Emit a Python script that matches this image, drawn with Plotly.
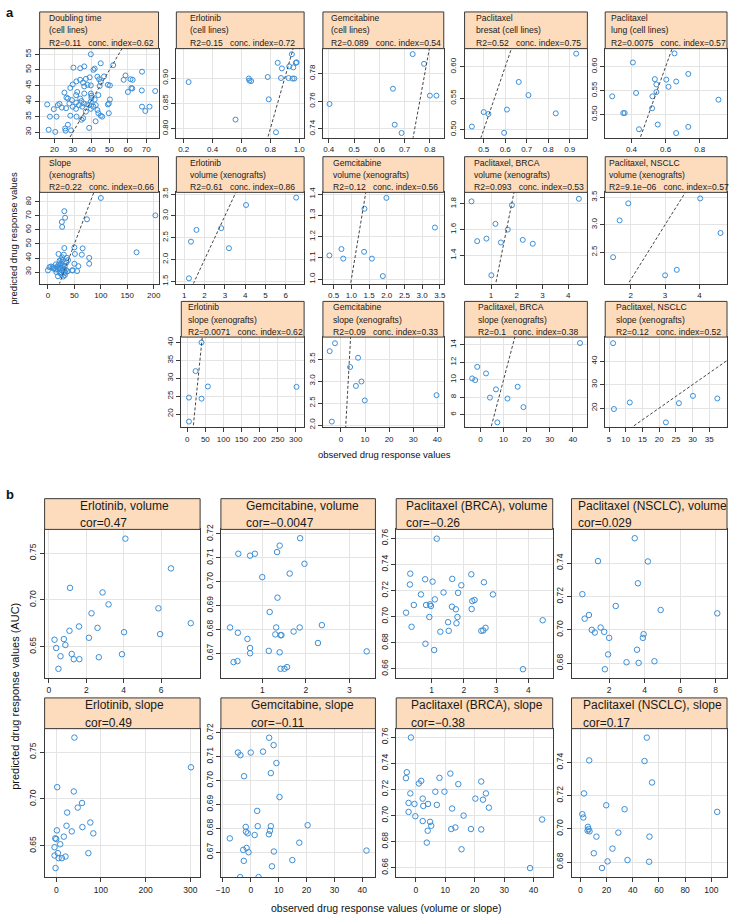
import plotly.graph_objects as go

W, H = 732, 918
MINUS = "\u2212"

# ---------------- data: panel a (observed x, predicted y) ----------------
doubling_obs = [39.8, 45.2, 52.0, 30.3, 34.0, 36.2, 41.2, 41.9, 67.7, 58.7, 47.0, 43.4, 39.2, 37.1, 34.0, 31.9,
                35.5, 44.3, 45.2, 57.7, 61.4, 62.6, 29.9, 38.0, 39.8, 49.1, 50.2, 44.6, 28.6, 36.2, 61.9, 62.4,
                67.6, 74.9, 60.0, 25.4, 32.4, 39.8, 40.1, 36.2, 43.9, 31.8, 26.5, 40.1, 27.3, 34.0, 41.9, 50.2,
                29.5, 34.7, 39.8, 22.7, 28.1, 31.8, 36.0, 37.8, 49.6, 49.1, 21.8, 33.3, 38.9, 42.5, 24.0, 29.9,
                35.1, 41.2, 67.7, 71.8, 19.6, 26.3, 31.7, 39.8, 43.4, 69.5, 37.1, 43.9, 49.6, 45.2, 46.0, 17.5,
                21.1, 32.0, 35.6, 34.7, 28.6, 42.4, 27.3, 38.9, 25.8, 26.0, 29.0, 16.8, 20.4, 16.0]
doubling_pred = [55.0, 52.1, 51.5, 50.7, 50.5, 51.1, 50.0, 50.4, 49.4, 48.2, 47.9, 47.8, 47.6, 47.1, 46.8, 46.3,
                 45.9, 47.0, 46.1, 46.8, 47.0, 46.8, 45.3, 45.2, 45.0, 45.2, 45.0, 44.8, 44.2, 44.7, 44.2, 44.0,
                 43.4, 43.2, 42.9, 42.7, 42.9, 42.4, 41.7, 42.4, 41.9, 41.9, 41.1, 41.0, 40.8, 40.8, 40.5, 40.5,
                 40.3, 40.0, 39.8, 39.1, 39.2, 39.5, 39.2, 38.9, 39.2, 38.9, 38.7, 38.7, 38.7, 38.7, 37.9, 38.2,
                 38.2, 38.2, 38.2, 38.2, 37.4, 37.7, 37.5, 37.5, 37.1, 36.8, 36.6, 36.1, 36.1, 35.3, 35.0, 35.0,
                 35.0, 35.0, 34.5, 34.0, 35.3, 33.5, 32.4, 31.4, 31.2, 30.5, 30.6, 30.8, 30.1, 38.9]

erlo_cell_obs = [0.234, 0.559, 0.651, 0.655, 0.667, 0.782, 0.789, 0.839, 0.851, 0.874, 0.880, 0.931, 0.926,
                 0.949, 0.959, 0.954, 0.966, 0.977, 0.982]
erlo_cell_pred = [0.892, 0.818, 0.899, 0.895, 0.894, 0.902, 0.858, 0.793, 0.930, 0.900, 0.919, 0.923, 0.900,
                  0.947, 0.921, 0.899, 0.899, 0.930, 0.931]

gem_cell_obs = [0.403, 0.654, 0.661, 0.688, 0.732, 0.777, 0.800, 0.826]
gem_cell_pred = [0.758, 0.769, 0.743, 0.737, 0.794, 0.787, 0.764, 0.764]

pacl_breast_obs = [0.445, 0.500, 0.522, 0.595, 0.608, 0.663, 0.708, 0.835, 0.930]
pacl_breast_pred = [0.505, 0.528, 0.525, 0.495, 0.532, 0.576, 0.555, 0.526, 0.621]

pacl_lung_obs = [0.287, 0.408, 0.427, 0.352, 0.360, 0.444, 0.537, 0.546, 0.546, 0.523, 0.521, 0.554, 0.604,
                 0.617, 0.652, 0.662, 0.662, 0.733, 0.733, 0.910]
pacl_lung_pred = [0.538, 0.609, 0.545, 0.503, 0.503, 0.469, 0.574, 0.563, 0.547, 0.538, 0.513, 0.479, 0.573,
                  0.558, 0.628, 0.569, 0.461, 0.585, 0.474, 0.531]

slope_obs = [100, 203, 31, 32.5, 26.3, 26.9, 73.8, 167.5, 31, 50, 65.6, 20, 51, 64, 78, 78, 50, 57.5, 55, 45.6,
             47, 30, 36, 0, 3, 6, 9, 12, 15, 17, 19, 20, 22, 24, 25, 26, 27, 28, 28, 29, 30, 31, 32, 33, 34, 35,
             25, 38, 22, 14, 16, 24, 10, 19, 23, 27, 32, 37, 21, 26]
slope_pred = [82.8, 70.4, 73.4, 68.7, 65.7, 62.2, 67.6, 44.1, 47.1, 47.6, 46.9, 42.9, 42.9, 42.4, 40.1, 35.9,
              35.9, 34.2, 30.7, 31.2, 31.2, 42.4, 40.1, 31.2, 33.5, 34.0, 33.5, 33.0, 35.5, 33.6, 31.8, 35.2,
              29.8, 32.8, 36.3, 28.2, 31.0, 34.5, 38.5, 26.8, 30.0, 32.2, 27.8, 29.5, 31.5, 36.8, 39.0, 38.5,
              38.0, 32.0, 30.0, 29.0, 32.5, 27.0, 35.0, 40.5, 34.5, 30.5, 33.0, 34.0]

erlo_vol_obs = [1.23, 1.33, 1.60, 2.82, 3.20, 4.04, 6.51]
erlo_vol_pred = [1.57, 2.41, 2.68, 2.72, 2.26, 3.25, 3.42]

gem_vol_obs = [0.38, 0.72, 0.77, 1.36, 1.37, 1.58, 1.89, 1.99, 3.36]
gem_vol_pred = [1.112, 1.142, 1.097, 1.129, 1.331, 1.097, 1.015, 1.382, 1.243]

brca_vol_obs = [0.24, 0.46, 0.82, 1.17, 1.01, 1.38, 1.65, 1.81, 2.23, 2.62, 4.41]
brca_vol_pred = [1.82, 1.51, 1.53, 1.645, 1.245, 1.50, 1.60, 1.79, 1.52, 1.49, 1.84]

nsclc_vol_obs = [1.49, 1.68, 1.93, 3.00, 3.34, 4.02, 4.61]
nsclc_vol_pred = [2.41, 3.08, 3.39, 2.08, 2.18, 3.48, 2.85]

erlo_slope_obs = [4.6, 4.6, 23, 39.4, 39.4, 57, 302]
erlo_slope_pred = [17.9, 24.6, 32.0, 40.0, 24.3, 27.7, 27.6]

gem_slope_obs = [-4.7, -2.5, 3.8, 7.1, 6.2, 8.5, 9.9, -3.8, 39.7]
gem_slope_pred = [3.68, 3.86, 3.32, 3.53, 2.89, 2.99, 2.56, 2.08, 2.68]

brca_slope_obs = [-3.6, -2.3, -1.4, 2.4, 6.7, 4.1, 7.3, 11.7, 16.1, 18.6, 43.1]
brca_slope_pred = [10.15, 9.96, 11.47, 10.72, 8.9, 7.96, 5.13, 7.85, 9.2, 6.87, 14.19]

nsclc_slope_obs = [6.2, 6.45, 11.2, 22.0, 25.9, 30.1, 37.4]
nsclc_slope_pred = [47.7, 19.6, 22.4, 13.9, 22.1, 25.2, 24.1]

# ---------------- data: panel b (observed x, predicted AUC y) ----------------
b_erlo_vol = [0.30, 0.39, 0.51, 0.62, 0.80, 0.88, 1.10, 1.13, 1.22, 1.33, 1.63, 1.61, 2.14, 2.28, 2.60, 2.67,
              2.87, 3.19, 3.91, 4.02, 4.09, 5.86, 5.95, 6.53, 7.59]
b_erlo_vol_auc = [0.6574, 0.6486, 0.6263, 0.6398, 0.6581, 0.6518, 0.667, 0.7129, 0.6422, 0.6366, 0.6366, 0.6716,
                  0.6595, 0.6857, 0.6701, 0.6387, 0.708, 0.6952, 0.6419, 0.6655, 0.7655, 0.691, 0.6634, 0.7337,
                  0.6751]

b_gem_vol = [0.26, 0.34, 0.43, 0.44, 0.45, 0.72, 0.83, 0.66, 0.72, 0.72, 1.0, 1.15, 1.17, 1.32, 1.30, 1.34,
             1.35, 1.40, 1.40, 1.42, 1.44, 1.42, 1.51, 1.57, 1.63, 1.72, 1.86, 1.87, 1.97, 2.28, 2.37, 3.40]
b_gem_vol_auc = [0.6808, 0.6663, 0.6667, 0.6786, 0.7117, 0.7109, 0.7117, 0.676, 0.6722, 0.67, 0.7019, 0.671,
                 0.6873, 0.6808, 0.6779, 0.7124, 0.6933, 0.7151, 0.6704, 0.6776, 0.6776, 0.6635, 0.6635, 0.6642,
                 0.7034, 0.6791, 0.6808, 0.7182, 0.7075, 0.6743, 0.6818, 0.6708]

b_brca_vol = [0.21, 0.34, 0.33, 0.38, 0.45, 0.67, 0.80, 0.81, 0.83, 0.93, 0.95, 0.98, 1.03, 1.08, 1.10, 1.16,
              1.27, 1.37, 1.51, 1.53, 1.64, 1.63, 1.75, 1.77, 1.80, 1.82, 1.92, 2.23, 2.24, 2.26, 2.33, 2.54,
              2.60, 2.67, 2.62, 2.90, 3.83, 4.44]
b_brca_vol_auc = [0.703, 0.7329, 0.7246, 0.6922, 0.7089, 0.717, 0.7286, 0.6792, 0.7089, 0.6997, 0.7094, 0.7081,
                  0.7268, 0.6744, 0.7132, 0.7597, 0.6884, 0.7185, 0.6957, 0.6891, 0.7289, 0.7076, 0.7056, 0.6949,
                  0.6997, 0.7182, 0.724, 0.7324, 0.7058, 0.7119, 0.7127, 0.6891, 0.6894, 0.6914, 0.7263, 0.717,
                  0.6597, 0.6972]

b_nsclc_vol = [0.49, 0.62, 0.86, 1.02, 1.19, 1.37, 1.52, 1.72, 1.76, 2.0, 1.94, 2.37, 2.98, 3.44, 3.57, 3.66,
               3.62, 3.90, 3.94, 4.18, 4.55, 4.90, 8.09]
b_nsclc_vol_auc = [0.7214, 0.7067, 0.7089, 0.70, 0.6984, 0.7412, 0.7014, 0.6988, 0.6764, 0.6952, 0.6853, 0.7143,
                   0.6806, 0.7549, 0.6881, 0.6802, 0.7279, 0.6952, 0.6974, 0.741, 0.6812, 0.7119, 0.7099]

b_erlo_slope = [40.7, 301.5, 2.2, 39.3, 57.8, 48.1, 24.4, 76.3, 23.0, 58.5, 1.5, 34.8, 83.0, 17.0, -2.2, 0,
                8.9, -3.7, 71.9, 3.7, -3.7, 20.7, 5.2, 12.6, -1.5]
b_erlo_slope_auc = [0.7655, 0.7338, 0.7126, 0.7080, 0.6957, 0.6908, 0.6855, 0.6749, 0.6714, 0.6700, 0.6665,
                    0.6654, 0.6633, 0.6598, 0.6580, 0.6573, 0.6517, 0.6485, 0.6422, 0.6422, 0.6397, 0.6386,
                    0.6369, 0.6369, 0.6263]

b_gem_slope = [-7.5, -4.6, -3.7, 0, -2.4, -3.8, -2.5, -2.7, -1.8, -1.7, -1.1, -0.8, -1.5, 2.8, 1.4, 2.3, 2.5,
               6.5, 6.9, 7.2, 6.6, 8.2, 4.4, 7.2, 9.2, 10.3, 7.6, 8.3, 14.9, 17.4, 20.4, 41.5]
b_gem_slope_auc = [0.6758, 0.7117, 0.7106, 0.7117, 0.7018, 0.6596, 0.6664, 0.671, 0.6806, 0.6786, 0.6779, 0.67,
                   0.6718, 0.6596, 0.6772, 0.6873, 0.6809, 0.6775, 0.679, 0.6809, 0.7179, 0.7148, 0.7121,
                   0.7031, 0.7073, 0.6931, 0.6641, 0.6703, 0.6667, 0.674, 0.6813, 0.6707]

b_brca_slope = [-1.7, -3.1, -3.4, -1.9, -2.5, -2.5, -0.5, -0.2, 1.0, 1.8, 2.3, 2.5, 2.3, 4.1, 4.0, 3.7, 4.8,
                5.2, 6.6, 7.1, 8.0, 9.7, 11.7, 12.3, 12.0, 13.4, 14.4, 15.5, 16.2, 18.7, 20.2, 22.2, 22.2,
                22.8, 23.8, 24.8, 38.8, 42.9]
b_brca_slope_auc = [0.7597, 0.7331, 0.7286, 0.7169, 0.7096, 0.7027, 0.7088, 0.6994, 0.7245, 0.7265, 0.7129,
                    0.7073, 0.6957, 0.7088, 0.6883, 0.6792, 0.6951, 0.6921, 0.7182, 0.7081, 0.7288, 0.7182,
                    0.7321, 0.7053, 0.6896, 0.6908, 0.7240, 0.6741, 0.6999, 0.6896, 0.7129, 0.7260, 0.6893,
                    0.7121, 0.7169, 0.7060, 0.6597, 0.6969]

b_nsclc_slope = [2.75, 1.5, 2.25, 6.75, 5.75, 6.25, 5.5, 7.0, 10.25, 12.25, 16.5, 19.75, 20.75, 24.5, 29,
                 33.75, 36, 49, 50.75, 52.75, 52.5, 54.75, 104.5]
b_nsclc_slope_auc = [0.7213, 0.7088, 0.7068, 0.7412, 0.7012, 0.6998, 0.6989, 0.6985, 0.6853, 0.6953, 0.6764,
                     0.7142, 0.6804, 0.6881, 0.6977, 0.7118, 0.6812, 0.7408, 0.7549, 0.6953, 0.6802, 0.7279,
                     0.7102]

# ---------------- strip labels ----------------
SP = "\u00a0\u00a0\u00a0"
a_heads = [
    ["Doubling time", "(cell lines)", "R2=0.11" + SP + "conc. index=0.62"],
    ["Erlotinib", "(cell lines)", "R2=0.15" + SP + "conc. index=0.72"],
    ["Gemcitabine", "(cell lines)", "R2=0.089" + SP + "conc. index=0.54"],
    ["Paclitaxel", "bresat (cell lines)", "R2=0.52" + SP + "conc. index=0.75"],
    ["Paclitaxel", "lung (cell lines)", "R2=0.0075" + SP + "conc. index=0.57"],
    ["Slope", "(xenografts)", "R2=0.22" + SP + "conc. index=0.66"],
    ["Erlotinib", "volume (xenografts)", "R2=0.61" + SP + "conc. index=0.86"],
    ["Gemcitabine", "volume (xenografts)", "R2=0.12" + SP + "conc. index=0.56"],
    ["Paclitaxel, BRCA", "volume (xenografts)", "R2=0.093" + SP + "conc. index=0.53"],
    ["Paclitaxel, NSCLC", "volume (xenografts)", "R2=9.1e" + MINUS + "06" + SP + "conc. index=0.57"],
    ["Erlotinib", "slope (xenografts)", "R2=0.0071" + SP + "conc. index=0.62"],
    ["Gemcitabine", "slope (xenografts)", "R2=0.09" + SP + "conc. index=0.33"],
    ["Paclitaxel, BRCA", "slope (xenografts)", "R2=0.1" + SP + "conc. index=0.38"],
    ["Paclitaxel, NSCLC", "slope (xenografts)", "R2=0.12" + SP + "conc. index=0.52"],
]
b_heads = [
    ["Erlotinib, volume", "cor=0.47"],
    ["Gemcitabine, volume", "cor=" + MINUS + "0.0047"],
    ["Paclitaxel (BRCA), volume", "cor=" + MINUS + "0.26"],
    ["Paclitaxel (NSCLC), volume", "cor=0.029"],
    ["Erlotinib, slope", "cor=0.49"],
    ["Gemcitabine, slope", "cor=" + MINUS + "0.11"],
    ["Paclitaxel (BRCA), slope", "cor=" + MINUS + "0.38"],
    ["Paclitaxel (NSCLC), slope", "cor=0.17"],
]

# ---------------- layout (pixels) ----------------
A_COLS = [(35, 155), (173, 302), (321, 443), (464, 588), (606, 729)]
A_ROWS = [(6, 43, 133), (152, 188, 280), (298, 334, 425)]
B_COLS = [(40, 197), (218, 374), (395, 553), (572, 729)]
B_ROWS = [(497, 528, 678), (698, 729, 879)]


def P(kind, x, y, head, col, row, xr, yr, xt, yt, xf, yf):
    return dict(kind=kind, x=x, y=y, head=head, col=col, row=row, xr=xr, yr=yr, xt=xt, yt=yt, xf=xf, yf=yf)


panels = [
    P("a", doubling_obs, doubling_pred, a_heads[0], A_COLS[0], A_ROWS[0], [11.9, 76.7], [28.2, 56.8],
      [20, 30, 40, 50, 60, 70], [30, 35, 40, 45, 50, 55], "{:.0f}", "{:.0f}"),
    P("a", erlo_cell_obs, erlo_cell_pred, a_heads[1], A_COLS[1], A_ROWS[0], [0.149, 1.034], [0.782, 0.958],
      [0.2, 0.4, 0.6, 0.8, 1.0], [0.80, 0.85, 0.90], "{:.1f}", "{:.2f}"),
    P("a", gem_cell_obs, gem_cell_pred, a_heads[2], A_COLS[2], A_ROWS[0], [0.377, 0.855], [0.7335, 0.798],
      [0.4, 0.5, 0.6, 0.7, 0.8], [0.74, 0.76, 0.78], "{:.1f}", "{:.2f}"),
    P("a", pacl_breast_obs, pacl_breast_pred, a_heads[3], A_COLS[3], A_ROWS[0], [0.411, 0.982], [0.487, 0.629],
      [0.5, 0.6, 0.7, 0.8, 0.9], [0.50, 0.55, 0.60], "{:.1f}", "{:.2f}"),
    P("a", pacl_lung_obs, pacl_lung_pred, a_heads[4], A_COLS[4], A_ROWS[0], [0.246, 0.96], [0.451, 0.638],
      [0.4, 0.6, 0.8], [0.50, 0.55, 0.60], "{:.1f}", "{:.2f}"),
    P("a", slope_obs, slope_pred, a_heads[5], A_COLS[0], A_ROWS[1], [-15.6, 209], [21.8, 86.8],
      [0, 50, 100, 150, 200], [30, 40, 50, 60, 70, 80], "{:.0f}", "{:.0f}"),
    P("a", erlo_vol_obs, erlo_vol_pred, a_heads[6], A_COLS[1], A_ROWS[1], [0.61, 6.9], [1.45, 3.54],
      [1, 2, 3, 4, 5, 6], [1.5, 2.0, 2.5, 3.0, 3.5], "{:.0f}", "{:.1f}"),
    P("a", gem_vol_obs, gem_vol_pred, a_heads[7], A_COLS[2], A_ROWS[1], [0.197, 3.61], [0.98, 1.408],
      [0.5, 1.0, 1.5, 2.0, 2.5, 3.0, 3.5], [1.0, 1.1, 1.2, 1.3, 1.4], "{:.1f}", "{:.1f}"),
    P("a", brca_vol_obs, brca_vol_pred, a_heads[8], A_COLS[3], A_ROWS[1], [-0.03, 4.74], [1.18, 1.89],
      [1, 2, 3, 4], [1.4, 1.6, 1.8], "{:.0f}", "{:.1f}"),
    P("a", nsclc_vol_obs, nsclc_vol_pred, a_heads[9], A_COLS[4], A_ROWS[1], [1.26, 4.80], [1.93, 3.59],
      [2, 3, 4], [2.5, 3.0, 3.5], "{:.0f}", "{:.1f}"),
    P("a", erlo_slope_obs, erlo_slope_pred, a_heads[10], (178, 302), A_ROWS[2], [-16.5, 323], [16.3, 41.5],
      [0, 50, 100, 150, 200, 250, 300], [20, 25, 30, 35, 40], "{:.0f}", "{:.0f}"),
    P("a", gem_slope_obs, gem_slope_pred, a_heads[11], A_COLS[2], A_ROWS[2], [-7.5, 42.7], [1.95, 4.0],
      [0, 10, 20, 30, 40], [2.0, 2.5, 3.0, 3.5], "{:.0f}", "{:.1f}"),
    P("a", brca_slope_obs, brca_slope_pred, a_heads[12], A_COLS[3], A_ROWS[2], [-6.9, 46.3], [4.57, 14.87],
      [0, 10, 20, 30, 40], [6, 8, 10, 12, 14], "{:.0f}", "{:.0f}"),
    P("a", nsclc_slope_obs, nsclc_slope_pred, a_heads[13], A_COLS[4], A_ROWS[2], [3.84, 40.3], [11.8, 50.3],
      [5, 10, 15, 20, 25, 30, 35], [20, 30, 40], "{:.0f}", "{:.0f}"),
    P("b", b_erlo_vol, b_erlo_vol_auc, b_heads[0], B_COLS[0], B_ROWS[0], [-0.23, 8.09], [0.6164, 0.7754],
      [0, 2, 4, 6], [0.65, 0.70, 0.75], "{:.0f}", "{:.2f}"),
    P("b", b_gem_vol, b_gem_vol_auc, b_heads[1], B_COLS[1], B_ROWS[0], [0.05, 3.60], [0.6596, 0.7219],
      [1, 2, 3], [0.67, 0.68, 0.69, 0.70, 0.71, 0.72], "{:.0f}", "{:.2f}"),
    P("b", b_brca_vol, b_brca_vol_auc, b_heads[2], B_COLS[2], B_ROWS[0], [-0.095, 4.75], [0.6529, 0.7668],
      [1, 2, 3, 4], [0.66, 0.68, 0.70, 0.72, 0.74, 0.76], "{:.0f}", "{:.2f}"),
    P("b", b_nsclc_vol, b_nsclc_vol_auc, b_heads[3], B_COLS[3], B_ROWS[0], [-0.12, 8.64], [0.6711, 0.7602],
      [2, 4, 6, 8], [0.68, 0.70, 0.72, 0.74], "{:.0f}", "{:.2f}"),
    P("b", b_erlo_slope, b_erlo_slope_auc, b_heads[4], B_COLS[0], B_ROWS[1], [-26, 322], [0.6164, 0.775],
      [0, 100, 200, 300], [0.65, 0.70, 0.75], "{:.0f}", "{:.2f}"),
    P("b", b_gem_slope, b_gem_slope_auc, b_heads[5], B_COLS[1], B_ROWS[1], [-10.7, 44.7], [0.6595, 0.7217],
      [-10, 0, 10, 20, 30, 40], [0.67, 0.68, 0.69, 0.70, 0.71, 0.72], "{:.0f}", "{:.2f}"),
    P("b", b_brca_slope, b_brca_slope_auc, b_heads[6], B_COLS[2], B_ROWS[1], [-6.7, 46.5], [0.6526, 0.7665],
      [0, 10, 20, 30, 40], [0.66, 0.68, 0.70, 0.72, 0.74, 0.76], "{:.0f}", "{:.2f}"),
    P("b", b_nsclc_slope, b_nsclc_slope_auc, b_heads[7], B_COLS[3], B_ROWS[1], [-6.75, 112], [0.6708, 0.7603],
      [0, 20, 40, 60, 80, 100], [0.68, 0.70, 0.72, 0.74], "{:.0f}", "{:.2f}"),
]

FONT = "Liberation Sans, Arial, Helvetica, sans-serif"
STRIP = "#fcdcbd"
PT = "#3a8fd9"
FRAME = "#3a3a3a"
GRID = "#e4e4e4"

# approximate Arial/Liberation Sans advance widths (em/1000) for centring strip text blocks
_CW = {" ": 278, "\u00a0": 278, "(": 333, ")": 333, ",": 278, "-": 333, ".": 278, "=": 584, MINUS: 584,
       "A": 667, "B": 667, "C": 722, "D": 722, "E": 667, "L": 556, "N": 722, "P": 667, "R": 722, "S": 667,
       "c": 500, "f": 278, "i": 222, "k": 500, "l": 222, "m": 833, "r": 333, "s": 500, "t": 278, "v": 500,
       "x": 500, "y": 500}


def text_w(s, fs):
    return sum(_CW.get(ch, 556) for ch in s) / 1000.0 * fs


def fmt(f, v):
    return f.format(v).replace("-", MINUS)


fig = go.Figure()
lay = dict(width=W, height=H, margin=dict(l=0, r=0, t=0, b=0), autosize=False,
           paper_bgcolor="white", plot_bgcolor="white", showlegend=False, hovermode=False,
           font=dict(family=FONT, color="#222"), shapes=[], annotations=[])

for i, p in enumerate(panels, start=1):
    (l, r) = p["col"]
    (ht, hb, pb) = p["row"]
    sfx = "" if i == 1 else str(i)
    isa = p["kind"] == "a"
    tfs = 8 if isa else 8.5
    axis_common = dict(showline=True, mirror=True, linecolor=FRAME, linewidth=1, ticks="outside", ticklen=4,
                       tickwidth=1, tickcolor=FRAME, showgrid=True, gridcolor=GRID, gridwidth=1, zeroline=False,
                       tickfont=dict(size=tfs, color="#222", family=FONT), fixedrange=True)
    lay["xaxis" + sfx] = dict(domain=[l / W, r / W], anchor="y" + sfx, range=p["xr"], tickmode="array",
                              tickvals=p["xt"], ticktext=[fmt(p["xf"], v) for v in p["xt"]], **axis_common)
    lay["yaxis" + sfx] = dict(domain=[1 - pb / H, 1 - hb / H], anchor="x" + sfx, range=p["yr"], tickmode="array",
                              tickvals=p["yt"], ticktext=[fmt(p["yf"], v) for v in p["yt"]], tickangle=-90,
                              **axis_common)
    fig.add_trace(go.Scatter(x=p["x"], y=p["y"], mode="markers", xaxis="x" + sfx, yaxis="y" + sfx,
                             marker=dict(symbol="circle-open", size=5 if isa else 5.5, color=PT,
                                         line=dict(width=1, color=PT))))
    if isa:
        lo = min(p["xr"][0], p["yr"][0])
        hi = max(p["xr"][1], p["yr"][1])
        fig.add_trace(go.Scatter(x=[lo, hi], y=[lo, hi], mode="lines", xaxis="x" + sfx, yaxis="y" + sfx,
                                 line=dict(color="#444", width=1, dash="3px,2px")))
    lay["shapes"].append(dict(type="rect", xref="paper", yref="paper", x0=l / W, x1=r / W,
                              y0=1 - hb / H, y1=1 - ht / H, fillcolor=STRIP, line=dict(color=FRAME, width=1)))
    # strip text: lines left-aligned, block centred on the strip
    hfs = 8.6 if isa else 12
    first, step = (6.0, 12.5) if isa else (7.0, 18.0)
    left = (l + r) / 2 - max(text_w(s, hfs) for s in p["head"]) / 2
    left = max(left, l + 2)
    for k, line in enumerate(p["head"]):
        lay["annotations"].append(dict(text=line, xref="paper", yref="paper", x=left / W,
                                       y=1 - (ht + first + k * step) / H, xanchor="left", yanchor="middle",
                                       showarrow=False, font=dict(size=hfs, color="#1a1a1a", family=FONT)))


def ann(text, x, y, size, angle=0, bold=False):
    return dict(text=("<b>%s</b>" % text) if bold else text, xref="paper", yref="paper", x=x / W, y=1 - y / H,
                xanchor="center", yanchor="middle", showarrow=False, textangle=angle,
                font=dict(size=size, color="#111", family=FONT))


lay["annotations"] += [
    ann("predicted drug response values", 9, 234, 9.5, -90),
    ann("observed drug response values", 383, 452, 9.5),
    ann("predicted drug response values (AUC)", 10, 696, 11, -90),
    ann("observed drug response values (volume or slope)", 385, 910, 10.5),
    ann("a", 5, 7, 13, bold=True),
    ann("b", 5, 493, 13, bold=True),
]

fig.update_layout(**lay)
fig.write_html("out.html", config={"displayModeBar": False, "staticPlot": True},
               post_script="document.body.style.margin='0px';document.body.style.overflow='hidden';")
